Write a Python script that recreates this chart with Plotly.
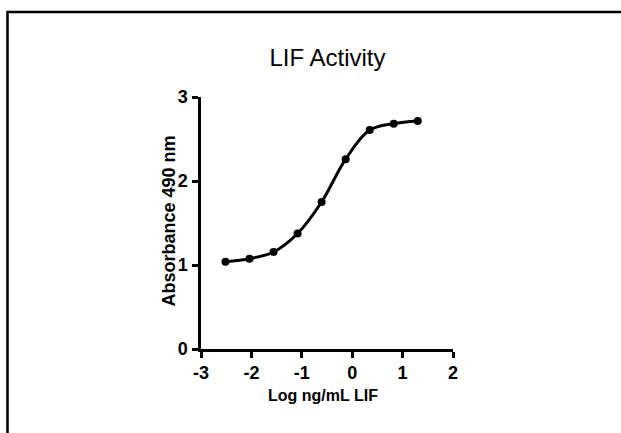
import plotly.graph_objects as go

# Data (3-fold dilutions from 20 ng/mL)
log_conc = [-2.515, -2.038, -1.561, -1.084, -0.607, -0.130, 0.347, 0.824, 1.301]
absorbance = [1.04, 1.075, 1.155, 1.375, 1.75, 2.26, 2.607, 2.683, 2.714]

x_ticks = [-3, -2, -1, 0, 1, 2]
y_ticks = [0, 1, 2, 3]

W, H = 621, 433
L, R, T, B = 201, 453, 97, 349

def px_x(p):
    return (p - L) / (R - L)

def px_y(p):
    return (B - p) / (B - T)

fig = go.Figure()
fig.add_trace(go.Scatter(
    x=log_conc, y=absorbance, mode="lines+markers",
    line=dict(color="black", width=3, shape="spline", smoothing=1.0),
    marker=dict(color="black", size=8),
    showlegend=False, cliponaxis=False,
))

font_b = dict(family="Liberation Sans, Arial, sans-serif", color="black", weight="bold")

fig.update_layout(
    width=W, height=H,
    margin=dict(l=L, r=W - R, t=T, b=H - B, pad=0),
    paper_bgcolor="white", plot_bgcolor="white",
    title=dict(text="LIF Activity", x=327.5 / W, xanchor="center", xref="container",
               y=1 - 58 / H, yanchor="middle", yref="container",
               font=dict(family="Liberation Sans, Arial, sans-serif", size=24, color="black")),
    xaxis=dict(range=[-3, 2], tickvals=x_ticks, ticktext=[str(v) for v in x_ticks],
               showgrid=False, zeroline=False, showline=True, linecolor="black", linewidth=2.5,
               ticks="outside", ticklen=6, tickwidth=2.5, tickcolor="black",
               tickfont=dict(size=18, **font_b), ticklabelstandoff=0),
    yaxis=dict(range=[0, 3], tickvals=y_ticks, ticktext=[str(v) for v in y_ticks],
               showgrid=False, zeroline=False, showline=True, linecolor="black", linewidth=2.5,
               ticks="outside", ticklen=6, tickwidth=2.5, tickcolor="black",
               tickfont=dict(size=18, **font_b), ticklabelstandoff=1),
    annotations=[
        dict(text="Log ng/mL LIF", xref="paper", yref="paper", x=px_x(322.5), y=px_y(395.5),
             xanchor="center", yanchor="middle", showarrow=False, font=dict(size=16, **font_b)),
        dict(text="Absorbance 490 nm", xref="paper", yref="paper", x=px_x(168), y=px_y(221.5),
             xanchor="center", yanchor="middle", textangle=-90, showarrow=False,
             font=dict(size=18, **font_b)),
    ],
    shapes=[dict(type="path", xref="paper", yref="paper",
                 path=f"M {px_x(7.5)},{px_y(445)} L {px_x(7.5)},{px_y(12)} L {px_x(630)},{px_y(12)}",
                 line=dict(color="black", width=2.5))],
)

fig.write_html("out.html", config={"displayModeBar": False},
               post_script="document.body.style.margin='0';document.body.style.overflow='hidden';")
